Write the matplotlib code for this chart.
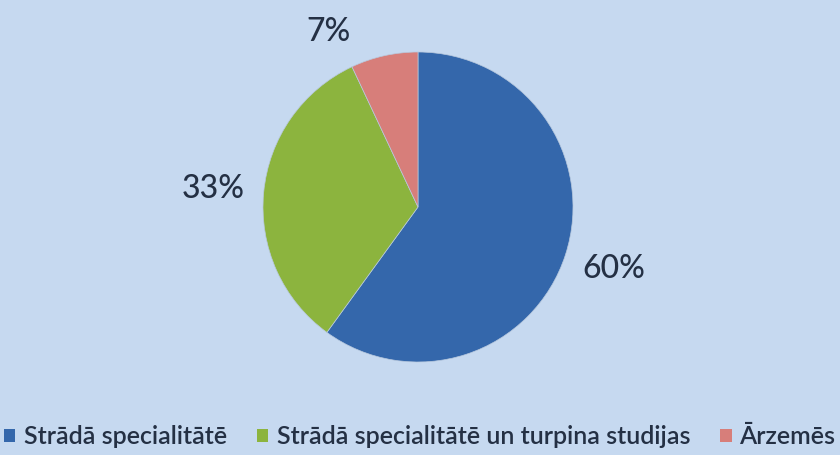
import matplotlib
matplotlib.use("Agg")
import matplotlib.pyplot as plt
from matplotlib.patches import Patch

categories = ["Strādā specialitātē", "Strādā specialitātē un turpina studijas", "Ārzemēs"]
shares = [60, 33, 7]
colors = ["#3467ab", "#8cb43e", "#d77e7a"]
bg = "#c6d9f0"

plt.rcParams["font.family"] = ["Lato", "DejaVu Sans"]

W, H = 840, 455
fig = plt.figure(figsize=(W / 100, H / 100), dpi=100, facecolor=bg)
ax = fig.add_axes([0, 0, 1, 1])
ax.set_facecolor(bg)

cx, cy, r = 418, H - 207, 155
ax.pie(shares, colors=colors, startangle=90, counterclock=False,
       center=(cx, cy), radius=r, frame=True,
       wedgeprops=dict(linewidth=0.5, edgecolor="#b8c9de"))
ax.set_xlim(0, W)
ax.set_ylim(0, H)
ax.set_aspect("equal")
ax.axis("off")

# value labels outside the pie
label_pos = [(614, H - 269), (213, H - 189), (328, H - 32)]
for v, (x, y) in zip(shares, label_pos):
    ax.text(x, y, f"{v}%", ha="center", va="center", fontsize=23,
            color="#243044", fontweight="medium")

handles = [Patch(facecolor=c, edgecolor="none") for c in colors]
fig.legend(handles, categories, loc="center", bbox_to_anchor=(0.5, 1 - 437 / H),
           ncol=3, frameon=False, fontsize=18, handlelength=0.45, handleheight=0.45,
           handletextpad=0.35, columnspacing=1.2, labelcolor="#243044",
           prop=dict(size=18, weight="semibold"))

fig.savefig("out.png", dpi=100, facecolor=bg)
